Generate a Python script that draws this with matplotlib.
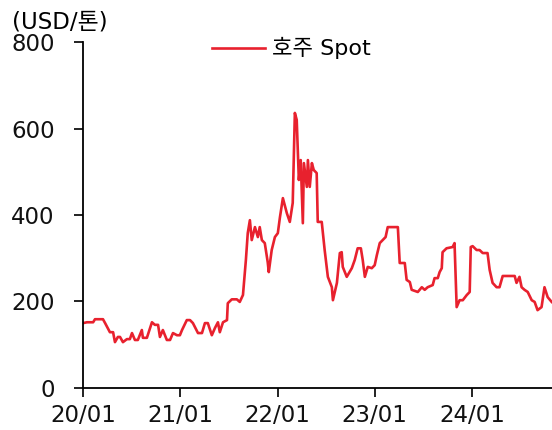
import pandas as pd
import matplotlib
matplotlib.use('Agg')
from matplotlib import pyplot as plt

plt.rcParams['font.family'] = ['DejaVu Sans', 'Noto Sans CJK KR']

# Australian spot price (USD/ton)
dates = [
    '2020-01-01', '2020-01-16', '2020-01-27', '2020-02-08', '2020-02-15', '2020-03-05',
    '2020-03-16', '2020-03-24', '2020-04-11', '2020-04-23', '2020-04-30', '2020-05-11',
    '2020-05-19', '2020-05-30', '2020-06-14', '2020-06-25', '2020-07-03', '2020-07-14',
    '2020-07-25', '2020-08-09', '2020-08-13', '2020-08-28', '2020-09-16', '2020-09-27',
    '2020-10-09', '2020-10-16', '2020-10-27', '2020-11-11', '2020-11-23', '2020-12-04',
    '2020-12-19', '2020-12-30', '2021-01-07', '2021-01-25', '2021-02-06', '2021-02-17',
    '2021-03-08', '2021-03-23', '2021-04-03', '2021-04-14', '2021-04-29', '2021-05-11',
    '2021-05-22', '2021-05-29', '2021-06-10', '2021-06-25', '2021-06-28', '2021-07-13',
    '2021-08-01', '2021-08-12', '2021-08-24', '2021-09-04', '2021-09-11', '2021-09-19',
    '2021-09-26', '2021-10-08', '2021-10-19', '2021-10-26', '2021-11-03', '2021-11-14',
    '2021-11-25', '2021-11-29', '2021-12-10', '2021-12-22', '2022-01-02', '2022-01-10',
    '2022-01-21', '2022-02-05', '2022-02-16', '2022-02-27', '2022-03-07', '2022-03-14',
    '2022-03-22', '2022-03-29', '2022-04-06', '2022-04-10', '2022-04-21', '2022-04-25',
    '2022-05-02', '2022-05-10', '2022-05-17', '2022-05-28', '2022-06-01', '2022-06-16',
    '2022-06-27', '2022-07-09', '2022-07-24', '2022-07-28', '2022-08-12', '2022-08-23',
    '2022-08-30', '2022-09-03', '2022-09-18', '2022-10-07', '2022-10-18', '2022-10-29',
    '2022-11-10', '2022-11-17', '2022-11-25', '2022-12-06', '2022-12-21', '2023-01-01',
    '2023-01-09', '2023-01-20', '2023-01-31', '2023-02-11', '2023-02-19', '2023-03-29',
    '2023-04-05', '2023-04-24', '2023-05-01', '2023-05-13', '2023-05-20', '2023-06-12',
    '2023-06-27', '2023-07-08', '2023-07-19', '2023-08-07', '2023-08-14', '2023-08-26',
    '2023-09-02', '2023-09-10', '2023-09-13', '2023-09-28', '2023-10-21', '2023-10-28',
    '2023-11-05', '2023-11-16', '2023-11-28', '2023-12-13', '2023-12-24', '2023-12-28',
    '2024-01-04', '2024-01-19', '2024-01-30', '2024-02-11', '2024-02-29', '2024-03-08',
    '2024-03-19', '2024-04-03', '2024-04-14', '2024-04-26', '2024-06-10', '2024-06-17',
    '2024-06-28', '2024-07-06', '2024-07-17', '2024-07-29', '2024-08-13', '2024-08-24',
    '2024-09-04', '2024-09-19', '2024-09-30', '2024-10-12', '2024-10-27',
]
spot = [
    150, 152, 152, 152, 159, 159,
    159, 150, 129, 129, 106, 118,
    118, 106, 113, 113, 127, 111,
    111, 134, 116, 116, 152, 146,
    146, 118, 134, 111, 111, 127,
    122, 122, 134, 157, 157, 150,
    127, 127, 150, 150, 122, 139,
    152, 129, 152, 157, 196, 205,
    205, 199, 215, 296, 358, 388,
    342, 372, 349, 372, 342, 335,
    291, 268, 319, 349, 358, 395,
    439, 404, 384, 428, 636, 620,
    481, 527, 381, 520, 465, 527,
    465, 520, 504, 497, 384, 384,
    319, 257, 233, 203, 243, 312,
    314, 280, 257, 277, 296, 323,
    323, 296, 257, 280, 277, 284,
    307, 335, 342, 349, 372, 372,
    289, 289, 250, 245, 227, 222,
    233, 227, 233, 238, 254, 254,
    268, 277, 314, 323, 326, 335,
    187, 203, 203, 215, 222, 326,
    328, 319, 319, 312, 312, 273,
    243, 233, 233, 259, 259, 243,
    257, 233, 227, 222, 203, 199,
    180, 187, 233, 210, 199,
]
tick_labels = ['20/01', '21/01', '22/01', '23/01', '24/01']

dates = pd.to_datetime(dates)
ticks = pd.to_datetime(['2020-01-01', '2021-01-01', '2022-01-01', '2023-01-01', '2024-01-01'])

fig = plt.figure(figsize=(5.52, 4.30), dpi=100)
ax = fig.add_axes([0.1504, 0.0977, 0.849, 0.8046])

ax.plot(dates, spot, color='#e8212e', linewidth=1.9, label='호주 Spot')

ax.set_xlim(pd.Timestamp('2020-01-01'), pd.Timestamp('2024-10-27'))
ax.set_ylim(0, 800)
ax.set_yticks([0, 200, 400, 600, 800])
ax.set_xticks(ticks)
ax.set_xticklabels(tick_labels)

for side in ['top', 'right']:
    ax.spines[side].set_visible(False)
for side in ['left', 'bottom']:
    ax.spines[side].set_linewidth(1.3)

ax.tick_params(axis='x', labelsize=16.5, length=6.5, width=1.3, colors='#111111', pad=5)
ax.tick_params(axis='y', labelsize=16.5, length=6.5, width=1.3, colors='#111111', pad=14)

fig.text(0.022, 0.975, '(USD/톤)', ha='left', va='top', fontsize=16.5)

ax.legend(loc='center left', bbox_to_anchor=(0.275, 0.982), frameon=False,
          borderaxespad=0, borderpad=0, fontsize=16,
          handlelength=2.4, handletextpad=0.3)

fig.savefig('out.png', dpi=100)
